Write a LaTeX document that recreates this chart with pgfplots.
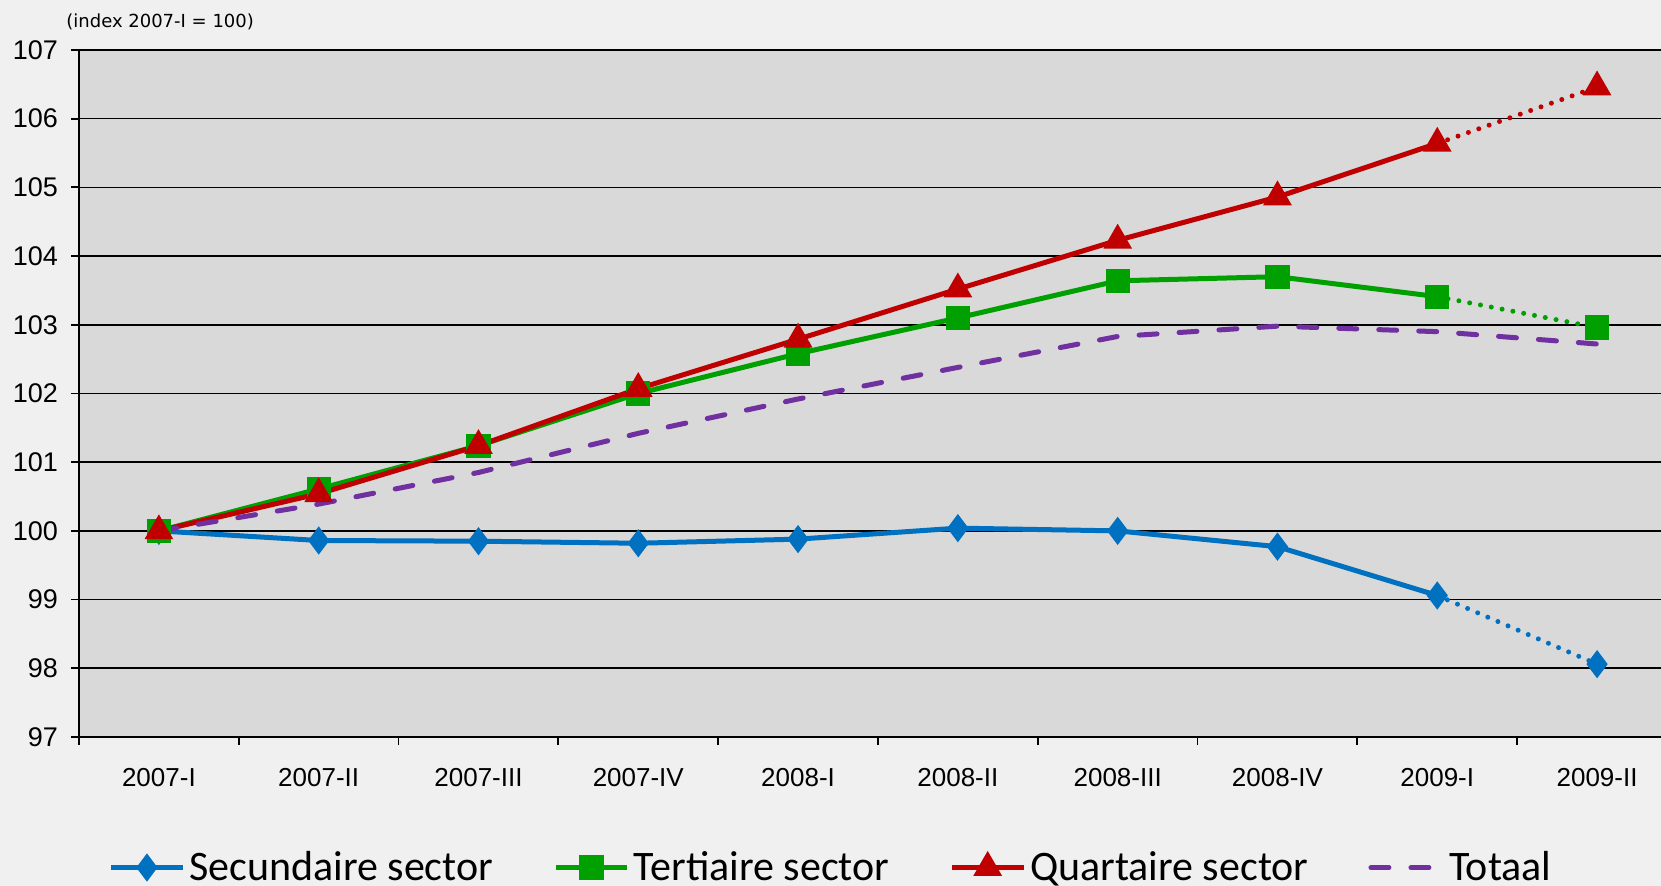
\documentclass[border=0pt]{standalone}
\usepackage{fontspec}
\setmainfont{Liberation Sans}
\newfontfamily\legfont{Carlito}
\newfontfamily\titfont{DejaVu Sans}
\usepackage{pgfplots}
\pgfplotsset{compat=1.18}
\definecolor{cblue}{HTML}{0070C0}
\definecolor{cgreen}{HTML}{00A000}
\definecolor{cred}{HTML}{C00000}
\definecolor{cpurple}{HTML}{7030A0}
\definecolor{figbg}{HTML}{F0F0F0}
\definecolor{plotbg}{HTML}{D9D9D9}
\begin{document}
\begin{tikzpicture}
\useasboundingbox (-39.5pt,-74.5pt) rectangle (791pt,368.5pt);
\fill[figbg] (-39.5pt,-74.5pt) rectangle (791pt,368.5pt);
\begin{axis}[
  at={(0,0)}, anchor=south west,
  scale only axis, width=791pt, height=343.5pt,
  xmin=-0.5, xmax=9.4, ymin=97, ymax=107,
  axis x line*=bottom, axis y line*=left,
  axis line style={black, line width=0.9pt},
  axis background/.style={fill=plotbg},
  ytick={97,...,107},
  xtick={0,...,9},
  xticklabels={2007-I,2007-II,2007-III,2007-IV,2008-I,2008-II,2008-III,2008-IV,2009-I,2009-II},
  minor xtick={-0.5,0.5,...,8.5},
  major x tick style={draw=none},
  minor x tick style={black, line width=0.9pt},
  y tick style={black, line width=0.9pt},
  tick align=outside,
  major tick length=4pt, minor tick length=4pt,
  ymajorgrids, grid style={black, line width=0.8pt},
  tick label style={font=\fontsize{13}{15}\selectfont},
  yticklabel style={font=\fontsize{13.5}{15}\selectfont, xshift=-3pt},
  /pgf/number format/assume math mode=true,
  xticklabel style={yshift=-8pt},
  clip=false,
  legend columns=4,
  legend style={at={(0.476,-0.19)}, anchor=center, draw=none, fill=none,
    font=\legfont\fontsize{21}{23}\selectfont,
    /tikz/every even column/.append style={column sep=28pt}},
  legend image code/.code={\draw[mark repeat=2,mark phase=2] plot coordinates {(0cm,0cm) (0.63cm,0cm) (1.26cm,0cm)};},
]
% Secundaire
\addplot[cblue, line width=2.5pt, mark=diamond*, mark size=5pt, mark options={solid}] coordinates {
(0,100.00) (1,99.86) (2,99.85) (3,99.82) (4,99.88) (5,100.04) (6,100.00) (7,99.77) (8,99.06)};
\addlegendentry{Secundaire sector}
\addplot[cgreen, line width=2.5pt, mark=square*, mark size=4.8pt, mark options={solid}] coordinates {
(0,100.00) (1,100.61) (2,101.24) (3,102.00) (4,102.58) (5,103.10) (6,103.64) (7,103.70) (8,103.41)};
\addlegendentry{Tertiaire sector}
\addplot[cred, line width=2.5pt, mark=triangle*, mark size=5.8pt, mark options={solid}] coordinates {
(0,100.00) (1,100.54) (2,101.24) (3,102.07) (4,102.79) (5,103.52) (6,104.23) (7,104.86) (8,105.64)};
\addlegendentry{Quartaire sector}
\addplot[cpurple, line width=2.5pt, line cap=round, dash pattern=on 9pt off 11pt, mark=none] coordinates {
(0,100.00) (1,100.39) (2,100.85) (3,101.42) (4,101.92) (5,102.38) (6,102.83) (7,102.98) (8,102.90) (9,102.72)};
\addlegendentry{Totaal}
% dotted forecast segments
\addplot[forget plot, cblue, line width=2.5pt, line cap=round, dash pattern=on 0pt off 5.5pt, mark=diamond*, mark size=5pt, mark options={solid}, mark indices={2}] coordinates {(8,99.06) (9,98.06)};
\addplot[forget plot, cgreen, line width=2.5pt, line cap=round, dash pattern=on 0pt off 5.5pt, mark=square*, mark size=4.8pt, mark options={solid}, mark indices={2}] coordinates {(8,103.41) (9,102.96)};
\addplot[forget plot, cred, line width=2.5pt, line cap=round, dash pattern=on 0pt off 5.5pt, mark=triangle*, mark size=5.8pt, mark options={solid}, mark indices={2}] coordinates {(8,105.64) (9,106.46)};
\end{axis}
\node[anchor=west, inner sep=0pt, font=\titfont\fontsize{9}{11}\selectfont] at (-6.5pt,357.5pt) {(index 2007-I = 100)};
\end{tikzpicture}
\end{document}
